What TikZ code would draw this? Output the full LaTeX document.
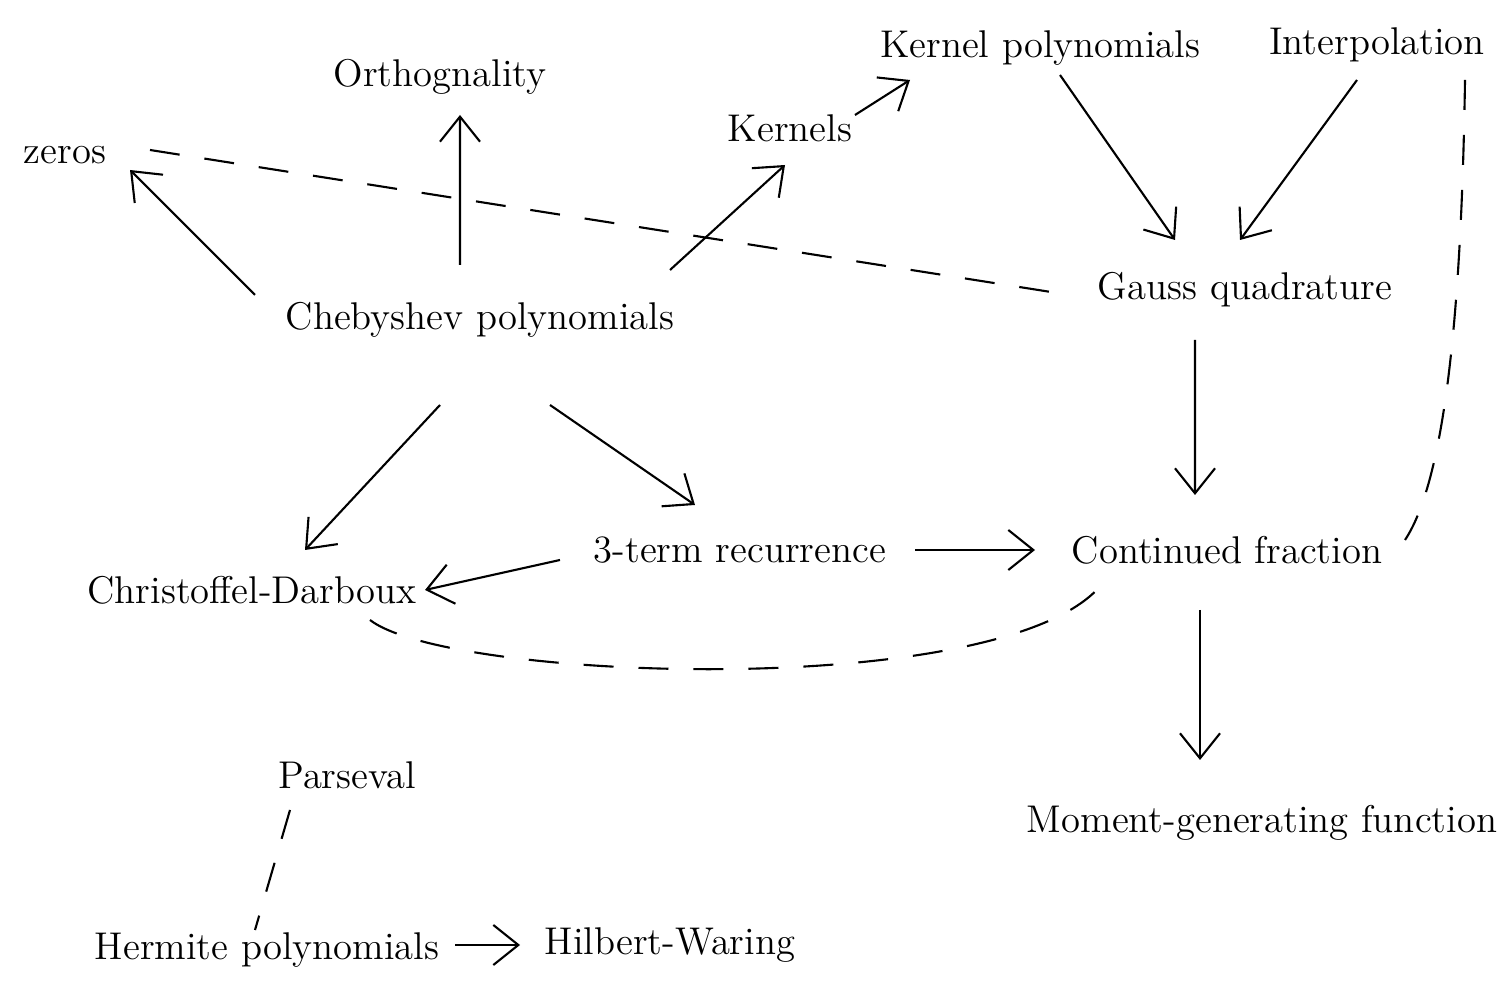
\documentclass[tikz,border=0pt]{standalone}
\usepackage{tikz}
\usetikzlibrary{arrows.meta,calc}
\begin{document}
\begin{tikzpicture}[
	lbl/.style={inner sep=2pt,font=\fontsize{11}{13}\selectfont},
	arr/.style={-{Straight Barb[length=2.5mm,width=4mm]},semithick},
	dsh/.style={semithick,dash pattern=on 3mm off 2.5mm}]
	\useasboundingbox (0,0) rectangle (15.07,10.02);
	% topics
	\node[lbl] (zeros) at (0.65,8.47) {zeros};
	\node[lbl] (orth) at (4.40,9.25) {Orthognality};
	\node[lbl] (kern) at (7.90,8.74) {Kernels};
	\node[lbl] (kpoly) at (10.40,9.54) {Kernel polynomials};
	\node[lbl] (interp) at (13.77,9.57) {Interpolation};
	\node[lbl] (cheb) at (4.80,6.82) {Chebyshev polynomials};
	\node[lbl] (gauss) at (12.45,7.12) {Gauss quadrature};
	\node[lbl] (chris) at (2.52,4.12) {Christoffel-Darboux};
	\node[lbl] (rec) at (7.40,4.52) {3-term recurrence};
	\node[lbl] (cfrac) at (12.27,4.52) {Continued fraction};
	\node[lbl] (pars) at (3.47,2.27) {Parseval};
	\node[lbl] (mgf) at (12.62,1.79) {Moment-generating function};
	\node[lbl] (herm) at (2.67,0.52) {Hermite polynomials};
	\node[lbl] (hilb) at (6.70,0.57) {Hilbert-Waring};
	% arrows
	\draw[arr] ($(cheb)+(-2.25,0.25)$) -- ($(zeros)+(0.65,-0.15)$);
	\draw[arr] ($(cheb)+(-0.2,0.55)$) -- ($(orth)+(0.2,-0.38)$);
	\draw[arr] ($(cheb)+(1.9,0.5)$) -- ($(kern)+(-0.05,-0.37)$);
	\draw[arr] ($(kern)+(0.65,0.13)$) -- ($(kpoly)+(-1.3,-0.32)$);
	\draw[arr] ($(kpoly)+(0.2,-0.27)$) -- ($(gauss)+(-0.7,0.5)$);
	\draw[arr] ($(interp)+(-0.2,-0.35)$) -- ($(gauss)+(-0.05,0.5)$);
	\draw[arr] ($(cheb)+(-0.4,-0.85)$) -- ($(chris)+(0.53,0.4)$);
	\draw[arr] ($(cheb)+(0.7,-0.85)$) -- ($(rec)+(-0.45,0.45)$);
	\draw[arr] ($(rec)+(-1.8,-0.1)$) -- ($(chris)+(1.73,0)$);
	\draw[arr] ($(rec)+(1.75,0)$) -- ($(cfrac)+(-1.92,0)$);
	\draw[arr] ($(gauss)+(-0.5,-0.5)$) -- ($(cfrac)+(-0.32,0.55)$);
	\draw[arr] ($(cfrac)+(-0.27,-0.6)$) -- ($(mgf)+(-0.62,0.63)$);
	\draw[arr] ($(herm)+(1.88,0.05)$) -- ($(hilb)+(-1.5,0)$);
	% dashed links
	\draw[dsh] ($(zeros)+(0.85,0.05)$) -- ($(gauss)+(-1.75,-0.05)$);
	\draw[dsh] ($(chris)+(1.18,-0.3)$) .. controls (4.5,3.2) and (10.2,3.0) .. ($(cfrac)+(-1.22,-0.3)$);
	\draw[dsh] ($(interp)+(0.88,-0.35)$) .. controls (14.62,7.3) and (14.5,5.3) .. ($(cfrac)+(1.78,0.1)$);
	\draw[dsh] ($(pars)+(-0.57,-0.35)$) -- ($(herm)+(-0.12,0.2)$);
\end{tikzpicture}
\end{document}
